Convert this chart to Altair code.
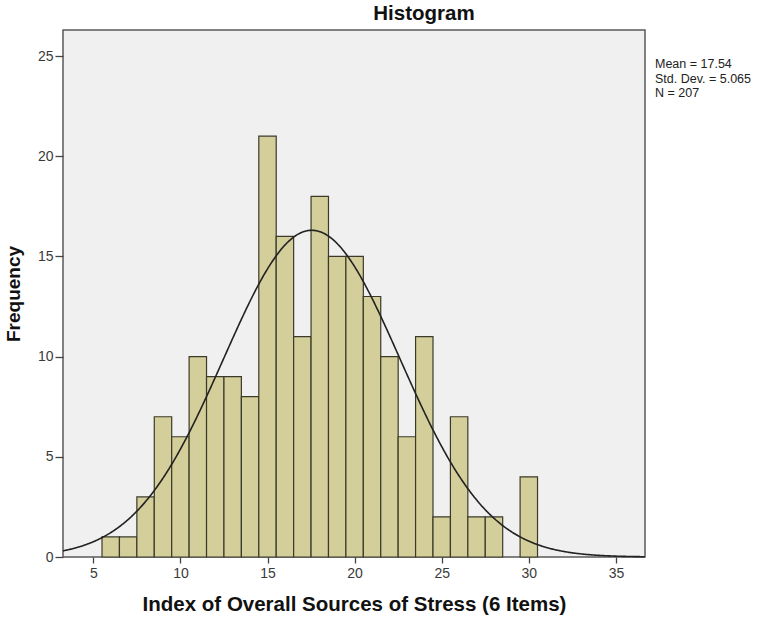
import altair as alt
import pandas as pd

# ---- data ----
bin_centers = [6, 7, 8, 9, 10, 11, 12, 13, 14, 15, 16, 17, 18, 19, 20,
               21, 22, 23, 24, 25, 26, 27, 28, 29, 30]
counts = [1, 1, 3, 7, 6, 10, 9, 9, 8, 21, 16, 11, 18, 15, 15,
          13, 10, 6, 11, 2, 7, 2, 2, 0, 4]
mean_val = 17.54
sd_val = 5.065
n_val = 207
x_ticks = [5, 10, 15, 20, 25, 30, 35]
y_ticks = [0, 5, 10, 15, 20, 25]
x_domain = [3.26, 36.67]
y_domain = [0, 26.3]
stats_text = [f"Mean = {mean_val}", f"Std. Dev. = {sd_val}", f"N = {n_val}"]

FONT = "Liberation Sans"

bars_df = pd.DataFrame({"center": bin_centers, "count": counts})
bars_df["lo"] = bars_df["center"] - 0.5
bars_df["hi"] = bars_df["center"] + 0.5
bars_df = bars_df[bars_df["count"] > 0]

xscale = alt.Scale(domain=x_domain, nice=False, zero=False)
yscale = alt.Scale(domain=y_domain, nice=False)

xaxis = alt.Axis(values=x_ticks, title="Index of Overall Sources of Stress (6 Items)",
                 grid=False, domain=False, tickColor="#444", tickSize=6, tickWidth=1.3,
                 labelColor="#3a3a3a", labelFontSize=14, labelFont=FONT, labelPadding=3,
                 titleFont=FONT, titleFontSize=20.5, titleFontWeight="bold",
                 titleColor="#111", titlePadding=14)
yaxis = alt.Axis(values=y_ticks, title="Frequency", grid=False, domain=False,
                 tickColor="#444", tickSize=8, tickWidth=1.3, labelColor="#3a3a3a",
                 labelFontSize=14, labelFont=FONT, labelPadding=2,
                 titleFont=FONT, titleFontSize=19, titleFontWeight="bold",
                 titleColor="#111", titlePadding=14)

bars = alt.Chart(bars_df).mark_rect(
    color="#D4CF9A", stroke="#3b3a2a", strokeWidth=1.2
).encode(
    x=alt.X("lo:Q", scale=xscale, axis=xaxis),
    x2="hi:Q",
    y=alt.Y("count:Q", scale=yscale, axis=yaxis),
    y2=alt.datum(0),
)

curve = alt.Chart(alt.sequence(x_domain[0], x_domain[1], 0.05, as_="x")).transform_calculate(
    y=f"{n_val} * exp(-0.5 * pow((datum.x - {mean_val}) / {sd_val}, 2)) / ({sd_val} * sqrt(2 * PI))"
).mark_line(color="#222", strokeWidth=1.6).encode(
    x=alt.X("x:Q", scale=xscale),
    y=alt.Y("y:Q", scale=yscale),
)

stats = alt.Chart(pd.DataFrame({"t": ["\n".join(stats_text)]})).mark_text(
    align="left", baseline="top", font=FONT, fontSize=12.5, color="#222",
    lineBreak="\n", lineHeight=14.5
).encode(
    text="t:N", x=alt.value(592), y=alt.value(28)
)

chart = alt.layer(bars, curve, stats).properties(
    width=582, height=527,
    title=alt.TitleParams("Histogram", font=FONT, fontSize=20.5, fontWeight="bold",
                          color="#111", anchor="middle", dx=70, offset=6),
    autosize=alt.AutoSizeParams(type="none"),
    padding={"left": 63, "top": 30, "right": 127, "bottom": 61},
    background="white",
).configure_view(
    fill="#F0F0F0", stroke="#5a5a5a", strokeWidth=1.5
)

chart.save("out.html", embed_options={"renderer": "svg", "actions": False})
